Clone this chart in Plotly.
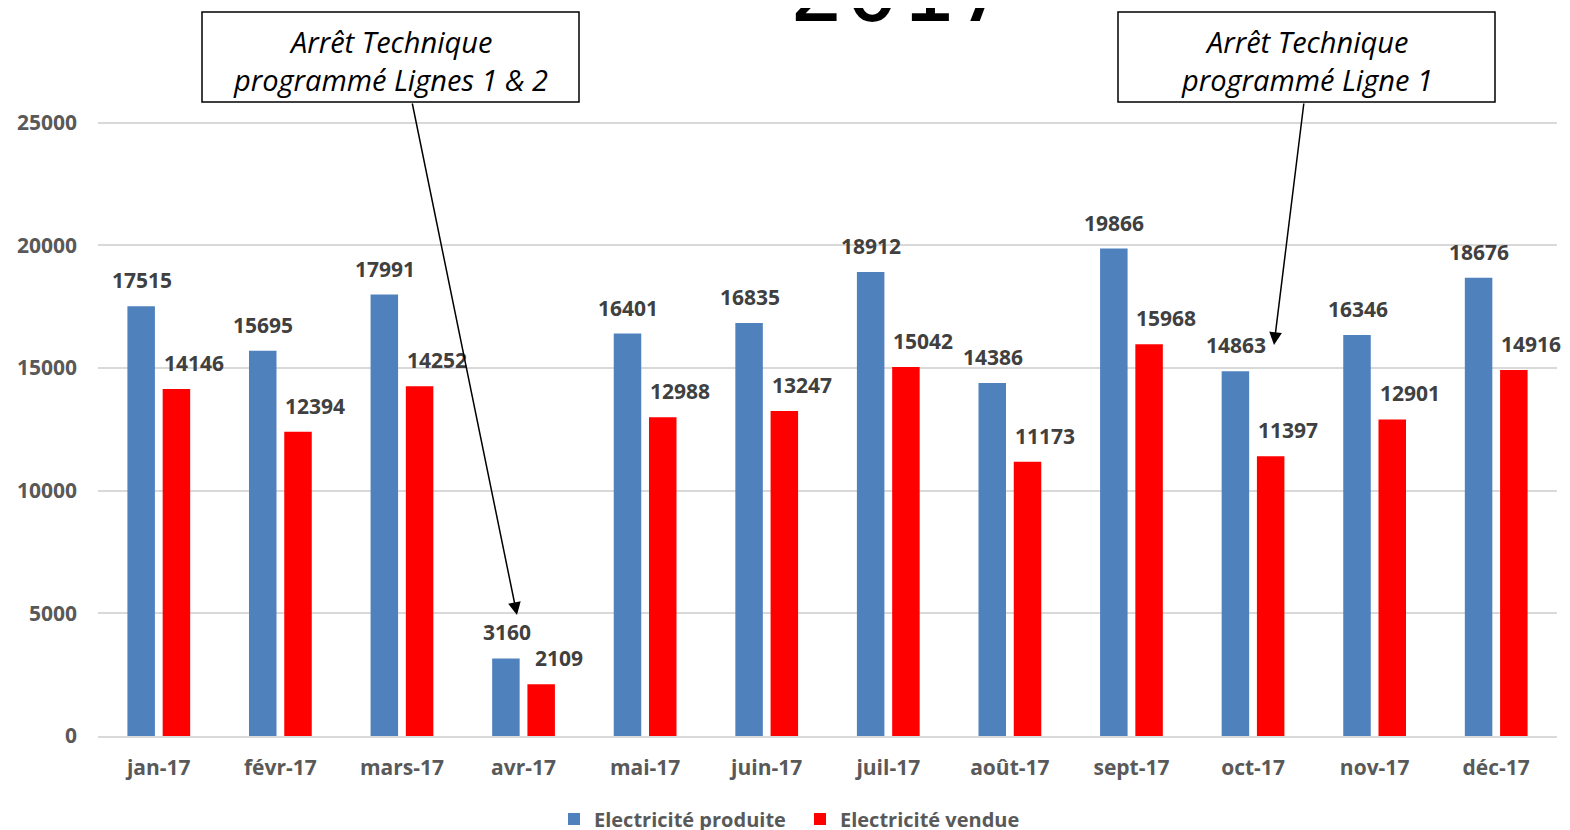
import plotly.graph_objects as go

months = ["jan-17", "févr-17", "mars-17", "avr-17", "mai-17", "juin-17",
          "juil-17", "août-17", "sept-17", "oct-17", "nov-17", "déc-17"]
produite = [17515, 15695, 17991, 3160, 16401, 16835, 18912, 14386, 19866, 14863, 16346, 18676]
vendue = [14146, 12394, 14252, 2109, 12988, 13247, 15042, 11173, 15968, 11397, 12901, 14916]
y_ticks = [0, 5000, 10000, 15000, 20000, 25000]

BLUE = "#4F81BD"
RED = "#FF0000"
LABEL = "#404040"
AXIS = "#595959"
FONT = "Open Sans"

fig = go.Figure()
fig.add_trace(go.Bar(x=months, y=produite, name="Electricité produite",
                     marker=dict(color=BLUE, line=dict(width=0))))
fig.add_trace(go.Bar(x=months, y=vendue, name="Electricité vendue",
                     marker=dict(color=RED, line=dict(width=0))))

lab_font = dict(family=FONT, size=21, color=LABEL, weight="bold")
annotations = []
for m, p, v in zip(months, produite, vendue):
    annotations.append(dict(x=m, y=p, xref="x", yref="y", text=str(p), showarrow=False,
                            xanchor="center", xshift=-17, yshift=26, yanchor="middle",
                            font=lab_font))
    annotations.append(dict(x=m, y=v, xref="x", yref="y", text=str(v), showarrow=False,
                            xanchor="center", xshift=35, yshift=26, yanchor="middle",
                            font=lab_font))

# plot area in page pixels: x 98..1557, y 98..736
PW = 1459.0
PH = 638.0
PX0 = 98.0
PY0 = 736.0


def px(x):
    return (x - PX0) / PW


def py(y):
    return (PY0 - y) / PH


# Title (partly cut at top)
annotations.append(dict(x=px(900), y=1.0835, xref="paper", yref="paper", text="2017",
                        showarrow=False, xanchor="center", yanchor="bottom",
                        font=dict(family="DejaVu Sans Mono", size=92, color="#000000")))

box_font = dict(family=FONT, size=29, color="#000000", style="italic")
for cx, lines in [(390.5, ["Arrêt Technique", "programmé Lignes 1 & 2"]),
                  (1306.5, ["Arrêt Technique", "programmé Ligne 1"])]:
    annotations.append(dict(x=px(cx), y=py(41), xref="paper", yref="paper", text=lines[0],
                            showarrow=False, xanchor="center", yanchor="middle", font=box_font))
    annotations.append(dict(x=px(cx), y=py(80), xref="paper", yref="paper", text=lines[1],
                            showarrow=False, xanchor="center", yanchor="middle", font=box_font))

# Arrows
annotations.append(dict(x=px(517), y=py(615), xref="paper", yref="paper", text="", showarrow=True,
                        ax=-105, ay=-513, axref="pixel", ayref="pixel",
                        arrowhead=2, arrowsize=1.7, arrowwidth=1.5, arrowcolor="#000000", standoff=0))
annotations.append(dict(x=px(1274), y=py(345), xref="paper", yref="paper", text="", showarrow=True,
                        ax=30, ay=-243, axref="pixel", ayref="pixel",
                        arrowhead=2, arrowsize=1.7, arrowwidth=1.5, arrowcolor="#000000", standoff=0))

shapes = [
    dict(type="rect", xref="paper", yref="paper", x0=px(202), x1=px(579), y0=py(102), y1=py(12),
         line=dict(color="#000000", width=1.5), fillcolor="#FFFFFF", layer="above"),
    dict(type="rect", xref="paper", yref="paper", x0=px(1118), x1=px(1495), y0=py(102), y1=py(12),
         line=dict(color="#000000", width=1.5), fillcolor="#FFFFFF", layer="above"),
]

# figure is placed at page offset (8, 8) by the default body margin
fig.update_layout(
    width=1562, height=822,
    margin=dict(l=90, r=13, t=90, b=94, autoexpand=False),
    paper_bgcolor="white", plot_bgcolor="white",
    barmode="group", bargap=0.42, bargroupgap=0.22,
    showlegend=True,
    legend=dict(orientation="h", x=px(800), xanchor="center", yref="container",
                y=(830 - 819) / 822, yanchor="middle",
                font=dict(family=FONT, size=20, color=AXIS, weight="bold"),
                itemwidth=30, entrywidth=201),
    annotations=annotations,
    shapes=shapes,
)
fig.update_xaxes(range=[-0.5, len(months) - 0.5],
                 showgrid=False, showline=True, linecolor="#D9D9D9", linewidth=2,
                 automargin=False,
                 ticks="", tickfont=dict(family=FONT, size=21, color=AXIS, weight="bold"),
                 ticklabelstandoff=12)
fig.update_yaxes(range=[0, 26000], tickvals=y_ticks, ticktext=[str(v) for v in y_ticks],
                 automargin=False,
                 showgrid=True, gridcolor="#D9D9D9", gridwidth=1.5, zeroline=False,
                 showline=False, ticks="", ticklabelstandoff=20,
                 tickfont=dict(family=FONT, size=21, color=AXIS, weight="bold"))

fig.write_html("out.html")
